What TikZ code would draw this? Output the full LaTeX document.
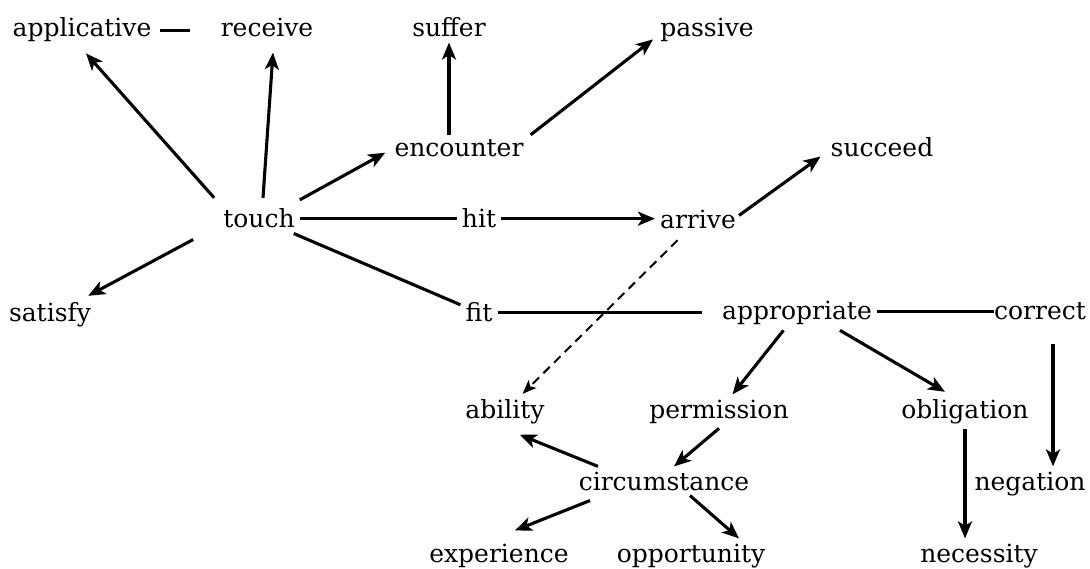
\documentclass[tikz,border=0pt]{standalone}
\usepackage{fontspec}
\setmainfont{DejaVu Serif}
\usetikzlibrary{arrows.meta}
\begin{document}
\begin{tikzpicture}[x=1pt,y=-1pt,
  lbl/.style={font=\fontsize{25}{28}\selectfont, inner sep=5pt, anchor=base},
  ln/.style={line width=3.1pt},
  arr/.style={line width=3.1pt, -{Stealth[length=17pt,width=14pt,inset=4.5pt]}},
  dsh/.style={line width=2pt, dash pattern=on 9pt off 6pt, -{Stealth[length=14pt,width=11pt,inset=3.5pt]}}]
\useasboundingbox (0,0) rectangle (1090,569);
\node[lbl] (applicative) at (82,37) {applicative};
\node[lbl] (receive) at (267,37) {receive};
\node[lbl] (suffer) at (449,37) {suffer};
\node[lbl] (passive) at (707,37) {passive};
\node[lbl] (encounter) at (459,157) {encounter};
\node[lbl] (succeed) at (882,157) {succeed};
\node[lbl] (touch) at (259,228) {touch};
\node[lbl] (hit) at (479,228) {hit};
\node[lbl] (arrive) at (698,229) {arrive};
\node[lbl] (satisfy) at (50,322) {satisfy};
\node[lbl] (fit) at (479,322) {fit};
\node[lbl] (appropriate) at (797,320) {appropriate};
\node[lbl] (correct) at (1040,320) {correct};
\node[lbl] (ability) at (505,418) {ability};
\node[lbl] (permission) at (719,418) {permission};
\node[lbl] (obligation) at (965,418) {obligation};
\node[lbl] (circumstance) at (664,490) {circumstance};
\node[lbl] (negation) at (1030,490) {negation};
\node[lbl] (experience) at (499,562) {experience};
\node[lbl] (opportunity) at (691,562) {opportunity};
\node[lbl] (necessity) at (979,562) {necessity};
% connectors
\draw[ln, shorten <=3pt, shorten >=26pt] (applicative.east) -- (receive.west |- applicative.east);
\draw[arr] ([shift={(-4,-6)}]touch.north west) -- ([shift={(4,6)}]applicative.south);
\draw[arr] ([shift={(4,-6)}]touch.north) -- ([shift={(6,10)}]receive.south);
\draw[arr] ([shift={(0,-4)}]touch.north east) -- ([shift={(-4,4)}]encounter.west);
\draw[arr] (encounter.north -| suffer.south) -- (suffer.south);
\draw[arr] ([shift={(2,0)}]encounter.north east) -- ([shift={(-2,-8)}]passive.south west);
\draw[arr] ([shift={(-25,6)}]touch.south west) -- ([shift={(-8,-2)}]satisfy.north east);
\draw[ln] (touch) -- (hit);
\draw[arr] (hit.east) -- (hit.east -| arrive.west);
\draw[arr] ([shift={(-2,10)}]arrive.north east) -- ([shift={(-5,-6)}]succeed.south west);
\draw[dsh, shorten <=8pt] (arrive) -- (ability);
\draw[ln] (touch) -- (fit);
\draw[ln, shorten >=15pt] (fit.east) -- (fit.east -| appropriate.west);
\draw[ln, shorten >=-5pt] (appropriate.east |- correct.west) -- (correct.west);
\draw[arr] (appropriate) -- (permission);
\draw[arr] ([xshift=43pt]appropriate.south) -- ([shift={(-20,-2)}]obligation.north);
\draw[arr, shorten <=18pt] ([xshift=13pt]correct.south) -- ([xshift=23pt]negation.north);
\draw[arr] (obligation.south) -- (obligation.south |- necessity.north);
\draw[arr] (permission.south) -- ([xshift=10pt]circumstance.north);
\draw[arr] ([shift={(-66,0)}]circumstance.north) -- ([shift={(-30,6)}]ability.south east);
\draw[arr] ([shift={(-74,5)}]circumstance.south) -- ([shift={(16,-8)}]experience.north);
\draw[arr] ([xshift=26pt]circumstance.south) -- ([xshift=48pt]opportunity.north);
\end{tikzpicture}
\end{document}
